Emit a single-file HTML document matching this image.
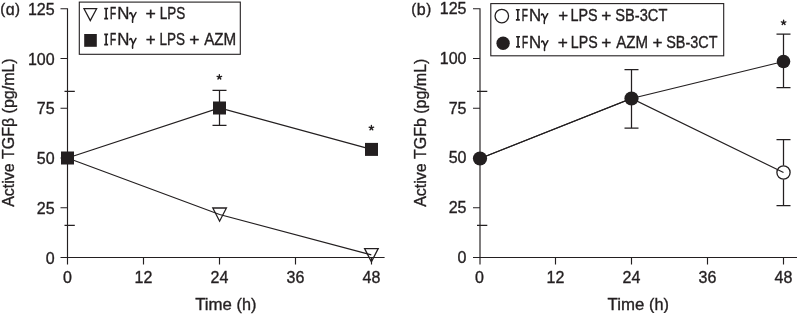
<!DOCTYPE html>
<html><head><meta charset="utf-8">
<style>
html,body{margin:0;padding:0;background:#fff;width:797px;height:315px;overflow:hidden;}
svg{display:block;will-change:transform;}
text{font-family:"Liberation Sans",sans-serif;font-size:16px;fill:#231f20;stroke:#231f20;stroke-width:0.35px;}
.ax{stroke:#231f20;stroke-width:1.15;fill:none;}
.ln{stroke:#231f20;stroke-width:1.25;fill:none;}
.op{fill:none;stroke:#231f20;stroke-width:1.3;}
</style></head>
<body>
<svg width="797" height="315" viewBox="0 0 797 315">
<text x="0.17" y="13.60" style="font-size:15px">(</text>
<text x="5.83" y="14.6">ɑ</text>
<text x="14.93" y="13.60" style="font-size:15px">)</text>
<path class="ax" d="M67.5 8.15V258.10 M60.5 8.75H67.5 M60.5 58.50H67.5 M60.5 108.25H67.5 M60.5 158.00H67.5 M60.5 207.75H67.5 M60.5 257.50H67.5 M64.5 91.4H74.8 M64.5 225.3H74.8"/>
<path class="ax" d="M67.5 257.5H384.6 M67.5 257.5V264.6 M143.5 257.5V264.6 M219.5 257.5V264.6 M295.5 257.5V264.6 M371.5 257.5V264.6"/>
<g text-anchor="end">
<text x="54.6" y="14.85">125</text>
<text x="54.6" y="64.60">100</text>
<text x="54.6" y="114.35">75</text>
<text x="54.6" y="164.10">50</text>
<text x="54.6" y="213.85">25</text>
<text x="54.6" y="263.60">0</text>
</g><g text-anchor="middle">
<text x="67.5" y="283">0</text>
<text x="143.5" y="283">12</text>
<text x="219.5" y="283">24</text>
<text x="295.5" y="283">36</text>
<text x="371.5" y="283">48</text>
</g>
<text x="195.23" y="309.6" textLength="36.70" lengthAdjust="spacingAndGlyphs">Time</text>
<text x="236.59" y="309.6" textLength="19.81" lengthAdjust="spacingAndGlyphs">(h)</text>
<text transform="translate(14.2 206.8) rotate(-90)">Active TGFβ (pg/mL)</text>
<path class="ln" d="M67.5 158.0L219.6 214.5L371.3 254.8"/>
<path class="ln" d="M67.5 158.0L219.5 108.0L371.5 149.4"/>
<path class="ln" d="M219.5 90.4V125.4 M212.5 90.4H226.5 M212.5 125.4H226.5"/>
<path class="op" d="M212.80 208.0H226.40L219.6 221.2Z"/>
<path class="op" d="M364.60 248.6H378.20L371.4 261.8Z"/>
<rect x="61.00" y="151.50" width="13" height="13" fill="#231f20"/>
<rect x="213.00" y="101.50" width="13" height="13" fill="#231f20"/>
<rect x="365.00" y="142.90" width="13" height="13" fill="#231f20"/>
<path d="M219.35 77.08L219.35 74.67M219.35 77.08L221.63 76.33M219.35 77.08L220.76 79.02M219.35 77.08L217.94 79.02M219.35 77.08L217.07 76.33" stroke="#231f20" stroke-width="1.35" stroke-linecap="round" fill="none"/>
<path d="M371.40 127.88L371.40 125.47M371.40 127.88L373.68 127.13M371.40 127.88L372.81 129.82M371.40 127.88L369.99 129.82M371.40 127.88L369.12 127.13" stroke="#231f20" stroke-width="1.35" stroke-linecap="round" fill="none"/>
<rect x="79.3" y="2.1" width="161.0" height="52.2" fill="#fff" stroke="#231f20" stroke-width="1.1"/>
<path class="op" d="M84.00 8.7H96.60L90.3 20.6Z"/>
<rect x="84.2" y="34" width="12.6" height="12.8" fill="#231f20"/>
<path d="M104.20 8.50H108.10M106.15 8.50V18.65M104.20 18.65H108.10" stroke="#231f20" stroke-width="1.65" fill="none"/>
<text x="110.08" y="19.4" textLength="6.12" lengthAdjust="spacingAndGlyphs" style="stroke-width:0.6px">F</text>
<text x="117.22" y="19.4" textLength="12.15" lengthAdjust="spacingAndGlyphs" style="stroke-width:0.35px">N</text>
<path transform="translate(129.10 19.4)" d="M0.65 -5.6C0.8 -6.6 1.6 -7.1 2.3 -6.2L4.0 -1.5M6.9 -6.9L4.0 -1.5C3.6 -0.5 3.3 1.6 3.5 2.9" stroke="#231f20" stroke-width="1.55" stroke-linecap="round" fill="none"/>
<text x="145.54" y="19.4" textLength="10.34" lengthAdjust="spacingAndGlyphs">+</text>
<text x="159.79" y="19.4" textLength="25.53" lengthAdjust="spacingAndGlyphs">LPS</text>
<path d="M104.20 34.40H108.10M106.15 34.40V44.55M104.20 44.55H108.10" stroke="#231f20" stroke-width="1.65" fill="none"/>
<text x="110.08" y="45.3" textLength="6.12" lengthAdjust="spacingAndGlyphs" style="stroke-width:0.6px">F</text>
<text x="117.22" y="45.3" textLength="12.15" lengthAdjust="spacingAndGlyphs" style="stroke-width:0.35px">N</text>
<path transform="translate(129.10 45.3)" d="M0.65 -5.6C0.8 -6.6 1.6 -7.1 2.3 -6.2L4.0 -1.5M6.9 -6.9L4.0 -1.5C3.6 -0.5 3.3 1.6 3.5 2.9" stroke="#231f20" stroke-width="1.55" stroke-linecap="round" fill="none"/>
<text x="145.68" y="45.3" textLength="9.86" lengthAdjust="spacingAndGlyphs">+</text>
<text x="159.59" y="45.3" textLength="25.53" lengthAdjust="spacingAndGlyphs">LPS</text>
<text x="189.35" y="45.3" textLength="10.22" lengthAdjust="spacingAndGlyphs">+</text>
<text x="204.17" y="45.3" textLength="32.08" lengthAdjust="spacingAndGlyphs">AZM</text>
<text x="411.27" y="13.60" style="font-size:15px">(</text>
<text x="416.87" y="14.6">b</text>
<text x="426.33" y="13.60" style="font-size:15px">)</text>
<path class="ax" d="M480 8.15V258.10 M473 8.75H480 M473 58.50H480 M473 108.25H480 M473 158.00H480 M473 207.75H480 M473 257.50H480 M477 91.4H487.3 M477 225.3H487.3"/>
<path class="ax" d="M480 257.5H797 M480 257.5V264.6 M555.5 257.5V264.6 M631.5 257.5V264.6 M707.5 257.5V264.6 M783.5 257.5V264.6"/>
<g text-anchor="end">
<text x="466.5" y="14.05">125</text>
<text x="466.5" y="63.80">100</text>
<text x="466.5" y="113.55">75</text>
<text x="466.5" y="163.30">50</text>
<text x="466.5" y="213.05">25</text>
<text x="466.5" y="262.80">0</text>
</g><g text-anchor="middle">
<text x="479.5" y="283">0</text>
<text x="555.5" y="283">12</text>
<text x="631.5" y="283">24</text>
<text x="707.5" y="283">36</text>
<text x="783.5" y="283">48</text>
</g>
<text x="607.63" y="309.6" textLength="36.70" lengthAdjust="spacingAndGlyphs">Time</text>
<text x="648.99" y="309.6" textLength="19.81" lengthAdjust="spacingAndGlyphs">(h)</text>
<text transform="translate(425.8 206.8) rotate(-90)">Active TGFb (pg/mL)</text>
<path class="ln" d="M480 158.5L631.5 98.5L783.5 172.5"/>
<path class="ln" d="M480 158.5L631.5 98.5L783.5 61.5"/>
<path class="ln" d="M631.5 69.7V128.1 M624.5 69.7H638.5 M624.5 128.1H638.5"/>
<path class="ln" d="M783.5 34V87.7 M776.5 34H790.5 M776.5 87.7H790.5"/>
<path class="ln" d="M783.5 139.7V165.5 M783.5 179.5V205.7 M776.5 139.7H790.5 M776.5 205.7H790.5"/>
<circle class="op" cx="783.5" cy="172.5" r="6.6"/>
<circle cx="480" cy="158.5" r="7.1" fill="#231f20"/>
<circle cx="631.5" cy="98.5" r="7.1" fill="#231f20"/>
<circle cx="783.5" cy="61.5" r="6.8" fill="#231f20"/>
<path d="M783.60 22.57L783.60 20.18M783.60 22.57L785.88 21.83M783.60 22.57L785.01 24.52M783.60 22.57L782.19 24.52M783.60 22.57L781.32 21.83" stroke="#231f20" stroke-width="1.35" stroke-linecap="round" fill="none"/>
<rect x="490.8" y="3.6" width="232.9" height="52.2" fill="#fff" stroke="#231f20" stroke-width="1.1"/>
<circle class="op" cx="501.8" cy="16.1" r="6.75"/>
<circle cx="503.1" cy="43.2" r="6.7" fill="#231f20"/>
<path d="M515.90 9.70H519.80M517.85 9.70V19.85M515.90 19.85H519.80" stroke="#231f20" stroke-width="1.65" fill="none"/>
<text x="521.78" y="20.6" textLength="6.12" lengthAdjust="spacingAndGlyphs" style="stroke-width:0.6px">F</text>
<text x="528.92" y="20.6" textLength="12.15" lengthAdjust="spacingAndGlyphs" style="stroke-width:0.35px">N</text>
<path transform="translate(540.80 20.6)" d="M0.65 -5.6C0.8 -6.6 1.6 -7.1 2.3 -6.2L4.0 -1.5M6.9 -6.9L4.0 -1.5C3.6 -0.5 3.3 1.6 3.5 2.9" stroke="#231f20" stroke-width="1.55" stroke-linecap="round" fill="none"/>
<text x="558.18" y="20.6" textLength="9.86" lengthAdjust="spacingAndGlyphs">+</text>
<text x="570.52" y="20.6" textLength="27.14" lengthAdjust="spacingAndGlyphs">LPS</text>
<text x="601.16" y="20.6" textLength="10.10" lengthAdjust="spacingAndGlyphs">+</text>
<text x="615.34" y="20.6" textLength="52.00" lengthAdjust="spacingAndGlyphs">SB-3CT</text>
<path d="M516.10 36.70H520.00M518.05 36.70V46.85M516.10 46.85H520.00" stroke="#231f20" stroke-width="1.65" fill="none"/>
<text x="521.98" y="47.6" textLength="6.12" lengthAdjust="spacingAndGlyphs" style="stroke-width:0.6px">F</text>
<text x="529.12" y="47.6" textLength="12.15" lengthAdjust="spacingAndGlyphs" style="stroke-width:0.35px">N</text>
<path transform="translate(541.00 47.6)" d="M0.65 -5.6C0.8 -6.6 1.6 -7.1 2.3 -6.2L4.0 -1.5M6.9 -6.9L4.0 -1.5C3.6 -0.5 3.3 1.6 3.5 2.9" stroke="#231f20" stroke-width="1.55" stroke-linecap="round" fill="none"/>
<text x="557.66" y="47.6" textLength="10.10" lengthAdjust="spacingAndGlyphs">+</text>
<text x="570.84" y="47.6" textLength="26.81" lengthAdjust="spacingAndGlyphs">LPS</text>
<text x="601.36" y="47.6" textLength="10.10" lengthAdjust="spacingAndGlyphs">+</text>
<text x="616.27" y="47.6" textLength="31.87" lengthAdjust="spacingAndGlyphs">AZM</text>
<text x="652.57" y="47.6" textLength="9.98" lengthAdjust="spacingAndGlyphs">+</text>
<text x="666.25" y="47.6" textLength="51.29" lengthAdjust="spacingAndGlyphs">SB-3CT</text>
</svg>
</body></html>
